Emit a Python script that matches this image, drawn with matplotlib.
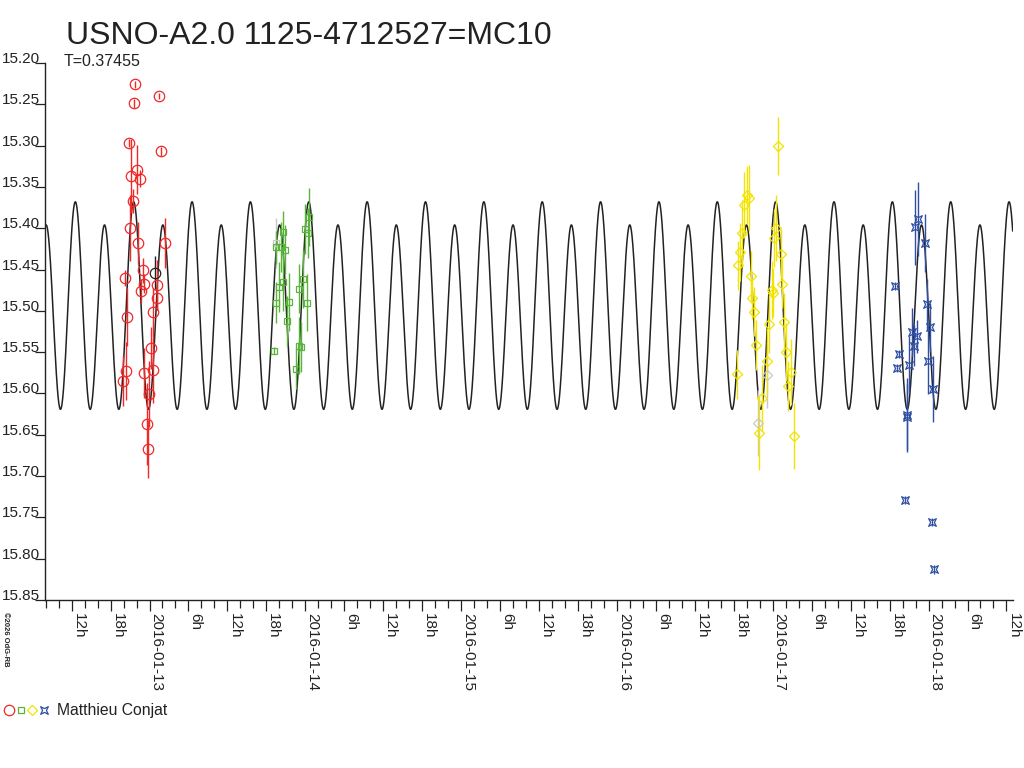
import matplotlib
matplotlib.use('Agg')
import matplotlib.pyplot as plt
import numpy as np
from matplotlib.path import Path
from matplotlib.lines import Line2D
from datetime import datetime, timedelta

plt.rcParams['font.family'] = ['Liberation Sans', 'DejaVu Sans']

# time in days from 2016-01-13 00:00 UT, magnitudes
red_t = [-0.0911, 0.0629, -0.0976, -0.1335, 0.0719, -0.0822, -0.1187, -0.0629, -0.1059,
         -0.1252, -0.0719, 0.1014, -0.1592, -0.0436, -0.0334, -0.0546, 0.0462, 0.0501,
         0.0244, -0.1444, 0.0077, -0.1528, -0.0334, 0.0205, -0.1701, -0.0013, -0.0180, -0.0116]
red_mag = [15.226, 15.240, 15.249, 15.297, 15.307, 15.329, 15.337, 15.340, 15.367,
           15.400, 15.418, 15.418, 15.460, 15.451, 15.467, 15.476, 15.469, 15.484,
           15.502, 15.507, 15.545, 15.573, 15.575, 15.572, 15.585, 15.601, 15.637, 15.667]
red_err = [0.004, 0.004, 0.005, 0.005, 0.005, 0.030, 0.045, 0.010, 0.015,
           0.040, 0.025, 0.030, 0.010, 0.015, 0.012, 0.015, 0.030, 0.015,
           0.030, 0.035, 0.025, 0.035, 0.030, 0.040, 0.030, 0.040, 0.050, 0.035]

black_t = [0.0334]
black_mag = [15.454]
black_err = [0.020]

green_t = [0.8010, 0.8119, 0.8139, 0.8549, 0.8716, 0.8421, 0.8588, 0.8293, 0.8935, 0.8806,
           1.0257, 0.9981, 1.0173, 0.9872, 0.9615, 1.0128, 0.9576, 0.9743, 0.9403]
green_mag = [15.548, 15.490, 15.423, 15.404, 15.426, 15.423, 15.465, 15.471, 15.489, 15.512,
             15.386, 15.401, 15.406, 15.461, 15.473, 15.490, 15.542, 15.544, 15.570]
green_err = [0.004, 0.025, 0.020, 0.025, 0.030, 0.030, 0.035, 0.030, 0.035, 0.030,
             0.035, 0.030, 0.030, 0.035, 0.030, 0.035, 0.035, 0.030, 0.025]

grey_sq_t = [0.8087]
grey_sq_mag = [15.418]
grey_sq_err = [0.030]

yellow_t = [4.0340, 3.8350, 3.8460, 3.8158, 3.8029, 3.7901, 3.7792, 3.8588, 3.8691,
            4.0212, 4.0103, 4.0514, 4.0616, 3.9936, 4.0039, 3.8800, 3.9782, 4.0745,
            3.8909, 4.0854, 3.9653, 3.7689, 4.1155, 4.1001, 3.9294, 3.9120, 4.1367]
yellow_mag = [15.300, 15.360, 15.363, 15.372, 15.406, 15.429, 15.445, 15.458, 15.485,
              15.400, 15.412, 15.431, 15.467, 15.475, 15.478, 15.501, 15.516, 15.514,
              15.541, 15.550, 15.561, 15.577, 15.574, 15.591, 15.606, 15.648, 15.652]
yellow_err = [0.035, 0.035, 0.040, 0.040, 0.040, 0.035, 0.030, 0.030, 0.025,
              0.040, 0.035, 0.030, 0.030, 0.035, 0.030, 0.030, 0.035, 0.035,
              0.030, 0.035, 0.040, 0.030, 0.040, 0.030, 0.040, 0.045, 0.040]

grey_di_t = [3.9615, 3.9076]
grey_di_mag = [15.578, 15.636]
grey_di_err = [0.040, 0.040]

blue_t = [4.7830, 4.9307, 4.9134, 4.9775, 4.9885, 4.8960, 4.9281, 4.9089, 5.0096, 4.8087,
          4.8768, 4.7998, 4.9987, 5.0289, 4.8639, 4.8620, 4.8492, 5.0225, 5.0372]
blue_mag = [15.470, 15.389, 15.399, 15.418, 15.492, 15.526, 15.531, 15.542, 15.520, 15.552,
            15.565, 15.569, 15.561, 15.595, 15.626, 15.629, 15.729, 15.756, 15.813]
blue_err = [0.005, 0.045, 0.045, 0.035, 0.030, 0.030, 0.020, 0.025, 0.030, 0.005,
            0.035, 0.005, 0.040, 0.040, 0.045, 0.040, 0.005, 0.005, 0.005]

observer = 'Matthieu Conjat'
title = 'USNO-A2.0 1125-4712527=MC10'

# light curve model (period T)
PERIOD = 0.37455
T_MAX = -0.476
M0 = 15.5005
A2 = 0.1185
A1 = 0.014

RED = '#f02828'
GREEN = '#5ab43c'
YELLOW = '#f2e400'
BLUE = '#2f4fa5'
GREY = '#c8c8c8'
INK = '#222222'

star_verts = [(1, 1), (0, 0.5), (-1, 1), (-0.5, 0), (-1, -1), (0, -0.5), (1, -1), (0.5, 0), (1, 1)]
star = Path(star_verts, [Path.MOVETO] + [Path.LINETO] * 7 + [Path.CLOSEPOLY])


def model(t):
    ph = (t - T_MAX) / PERIOD + 0.75
    return M0 + A2 * np.cos(4 * np.pi * ph) + A1 * np.sin(2 * np.pi * ph)


def draw_series(ax, t, m, e, color, marker, size):
    ax.errorbar(t, m, yerr=e, fmt='none', ecolor=color, elinewidth=1.0, capsize=0, zorder=2)
    ax.plot(t, m, linestyle='none', marker=marker, markersize=size, mfc='none',
            mec=color, mew=0.9, zorder=3)


def main():
    fig = plt.figure(figsize=(10.24, 7.68), dpi=100)
    ax = fig.add_axes([45 / 1024, 168 / 768, 967.7 / 1024, 537 / 768])

    x0, x1 = -0.6707, 5.540
    tt = np.linspace(x0, x1, 6000)
    ax.plot(tt, model(tt), color=INK, linewidth=1.1, zorder=1)

    draw_series(ax, red_t, red_mag, red_err, RED, 'o', 7.5)
    draw_series(ax, black_t, black_mag, black_err, INK, 'o', 7.5)
    draw_series(ax, grey_sq_t, grey_sq_mag, grey_sq_err, GREY, 's', 5)
    draw_series(ax, green_t, green_mag, green_err, GREEN, 's', 5)
    draw_series(ax, grey_di_t, grey_di_mag, grey_di_err, GREY, 'D', 5)
    draw_series(ax, yellow_t, yellow_mag, yellow_err, YELLOW, 'D', 5)
    draw_series(ax, blue_t, blue_mag, blue_err, BLUE, star, 5.5)

    ax.set_xlim(x0, x1)
    ax.set_ylim(15.85, 15.20)

    for s in ['top', 'right']:
        ax.spines[s].set_visible(False)
    for s in ['left', 'bottom']:
        ax.spines[s].set_color(INK)
        ax.spines[s].set_linewidth(1.0)

    # y ticks: label sits above the tick line
    yt = np.arange(15.20, 15.851, 0.05)
    ax.set_yticks(yt)
    ax.set_yticklabels(['%.2f' % v for v in yt])
    ax.tick_params(axis='y', length=7.2, width=0.9, color=INK, pad=-3.6,
                   labelsize=11, labelcolor=INK)
    for lab in ax.get_yticklabels():
        lab.set_va('baseline')

    # x ticks every 6h, minor every 2h
    major = np.arange(-0.5, 5.51, 0.25)
    minor = [v / 12 for v in range(-8, 67) if v % 3 != 0]
    labels = []
    for v in major:
        hour = int(round((v % 1) * 24)) % 24
        if hour == 0:
            labels.append((datetime(2016, 1, 13) + timedelta(days=round(v))).strftime('%Y-%m-%d'))
        else:
            labels.append('%dh' % hour)
    ax.set_xticks(major)
    ax.set_xticks(minor, minor=True)
    ax.set_xticklabels(labels, rotation=-90, ha='left', va='top')
    ax.tick_params(axis='x', which='major', length=8.2, width=0.9, color=INK, pad=1.2,
                   labelsize=11, labelcolor=INK)
    ax.tick_params(axis='x', which='minor', length=5.8, width=0.9, color=INK)

    fig.text(66 / 1024, 1 - 44 / 768, title, fontsize=23, color=INK, va='baseline')
    fig.text(64 / 1024, 1 - 66.5 / 768, 'T=%.5f' % PERIOD, fontsize=11.5, color=INK, va='baseline')
    fig.text(5 / 1024, 1 - 612 / 768, '\u00a92026 OdG-RB', rotation=-90, fontsize=5.5,
             weight='bold', color=INK, ha='center', va='top')

    # legend row at the bottom
    ly = 1 - 710 / 768
    for px, mk, col, ms in [(9, 'o', RED, 7.5), (20.7, 's', GREEN, 5),
                            (32.3, 'D', YELLOW, 5), (44, star, BLUE, 5.5)]:
        fig.add_artist(Line2D([px / 1024], [ly], transform=fig.transFigure, marker=mk,
                              markersize=ms, mfc='none', mec=col, mew=0.9, linestyle='none'))
    fig.text(56.7 / 1024, 1 - 715 / 768, observer, fontsize=11.3, color=INK, va='baseline')

    fig.savefig('out.png', dpi=100)


if __name__ == "__main__": main()
